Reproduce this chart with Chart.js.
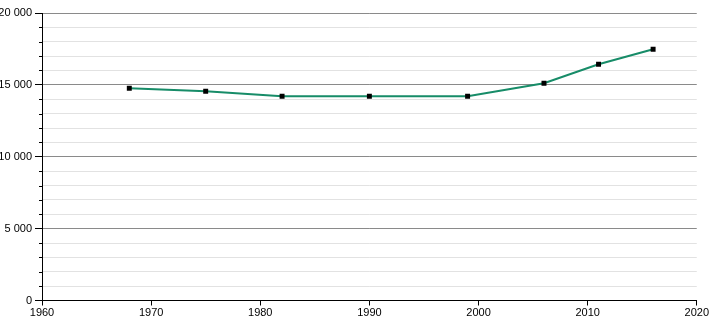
<!DOCTYPE html>
<html>
<head>
<meta charset="utf-8">
<script src="https://cdn.jsdelivr.net/npm/chart.js@4"></script>
<style>
  body { margin: 0; background: #fff; }
  canvas { display: block; }
</style>
</head>
<body>
<canvas id="popChart" width="710" height="320"></canvas>
<script>
// census years and population
const years = [1968, 1975, 1982, 1990, 1999, 2006, 2011, 2016];
const population = [14770, 14560, 14210, 14210, 14210, 15115, 16435, 17480];
const xTicks = [1960, 1970, 1980, 1990, 2000, 2010, 2020];
const yMax = 20000;

function fmt(v) {
  return String(v).replace(/\B(?=(\d{3})+(?!\d))/g, ' ');
}

// short tick marks for the minor (1000) steps
const minorTicks = {
  id: 'minorTicks',
  afterDraw(chart) {
    const y = chart.scales.y;
    const ctx = chart.ctx;
    ctx.save();
    ctx.strokeStyle = '#000';
    ctx.lineWidth = 1;
    for (let v = 0; v <= yMax; v += 1000) {
      if (v % 5000 === 0) continue;
      const py = Math.round(y.getPixelForValue(v)) + 0.5;
      ctx.beginPath();
      ctx.moveTo(y.right - 3, py);
      ctx.lineTo(y.right, py);
      ctx.stroke();
    }
    ctx.restore();
  }
};

document.addEventListener('DOMContentLoaded', function() {
  let ctx = document.getElementById('popChart').getContext('2d');

  new Chart(ctx, {
    type: 'line',
    data: {
      datasets: [{
        data: years.map((y, i) => ({ x: y, y: population[i] })),
        borderColor: '#178c68',
        borderWidth: 2,
        tension: 0,
        pointStyle: 'rect',
        pointRadius: 3.5,
        pointBackgroundColor: '#000',
        pointBorderColor: '#000',
        pointBorderWidth: 0
      }]
    },
    options: {
      responsive: false,
      animation: false,
      layout: { padding: { top: 13, right: 12, left: 0, bottom: 0 } },
      plugins: {
        legend: { display: false },
        tooltip: { enabled: false }
      },
      scales: {
        x: {
          type: 'linear',
          min: xTicks[0],
          max: xTicks[xTicks.length - 1],
          afterBuildTicks: function(scale) {
            scale.ticks = xTicks.map(v => ({ value: v }));
          },
          afterFit: function(scale) { scale.height = 19.5; },
          border: { color: '#000', width: 1 },
          grid: {
            drawOnChartArea: false,
            drawTicks: true,
            tickLength: 5,
            tickColor: '#000'
          },
          ticks: {
            color: '#000',
            padding: 1,
            maxRotation: 0,
            autoSkip: false,
            font: { family: 'Liberation Sans, Arial, sans-serif', size: 11 },
            callback: v => String(v)
          }
        },
        y: {
          min: 0,
          max: yMax,
          afterFit: function(scale) { scale.width = 42; },
          border: { color: '#000', width: 1 },
          grid: {
            color: c => (c.tick.value % 5000 === 0 ? '#8a8a8a' : '#e2e2e2'),
            tickColor: c => (c.tick.value % 5000 === 0 ? '#000' : 'transparent'),
            tickLength: 7
          },
          ticks: {
            stepSize: 1000,
            autoSkip: false,
            color: '#000',
            padding: 3,
            font: { family: 'Liberation Sans, Arial, sans-serif', size: 11 },
            callback: v => (v % 5000 === 0 ? fmt(v) : '')
          }
        }
      }
    },
    plugins: [minorTicks]
  });
});
</script>
</body>
</html>
